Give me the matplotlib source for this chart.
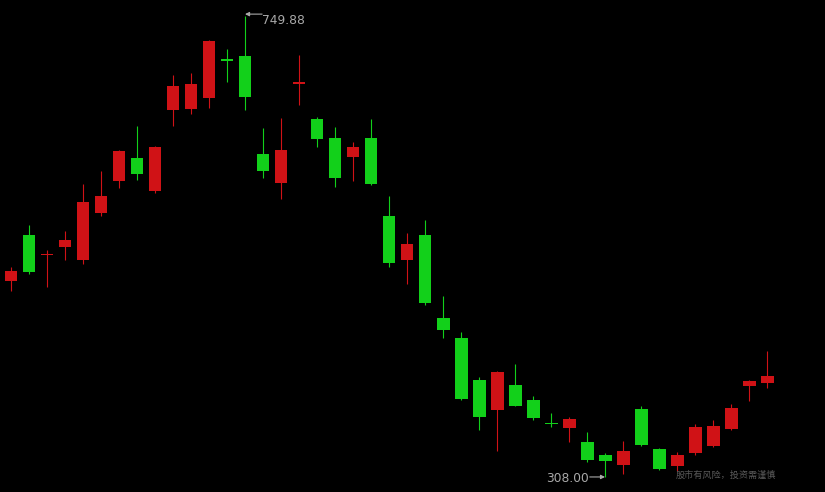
"""
Candlestick chart, dark theme, with max/min markers
"""
import numpy as np
import matplotlib
matplotlib.use('Agg')
import matplotlib.pyplot as plt

opens = [496, 540, 521, 529, 516, 561, 592, 614, 582, 660, 661, 671, 708, 712, 618,
         590, 685, 651, 633, 615, 633, 558, 516, 540, 461, 442, 401, 373, 397, 382,
         360, 355, 342, 329.5, 320, 374, 335, 319, 331, 338, 354, 396, 398]
closes = [506, 505, 522, 535, 572, 578, 621, 599, 624, 683, 685, 726, 707, 672, 601,
          622, 686, 632, 595, 624, 589, 513, 532, 475, 449, 383, 366, 409, 376, 365,
          359.5, 364, 325, 324, 333, 339, 316, 330, 356, 357, 375, 400, 405]
highs = [510, 550, 526, 544, 589, 601, 622, 645, 625, 693, 695, 727, 718, 749.88, 643,
         652, 713, 653, 644, 629, 651, 578, 542, 555, 482, 447, 404, 410, 417, 386,
         370, 366, 352, 331, 343, 376, 336, 332, 359, 363, 378, 401, 429]
lows = [487, 503, 490, 516, 512, 558, 585, 593, 580, 645, 656, 662, 687, 660, 595,
        575, 665, 624, 586, 592, 588, 510, 493, 473, 442, 382, 353, 333, 376, 363,
        356, 342, 323, 308.00, 311, 338, 315, 314, 330, 337, 353, 381, 394]

up_color = '#d01216'
down_color = '#12d01a'
label_color = '#a9a9a9'

o = np.array(opens)
c = np.array(closes)
h = np.array(highs)
l = np.array(lows)
x = np.arange(len(o))
colors = [up_color if cc >= oo else down_color for oo, cc in zip(o, c)]

fig = plt.figure(figsize=(8.25, 4.92), dpi=100)
fig.patch.set_facecolor('black')
ax = fig.add_axes([0, 0, 1, 1])
ax.set_facecolor('black')

# wicks then bodies (min body height so dojis show as a flat bar)
ax.vlines(x, l, h, colors=colors, linewidth=0.8, zorder=2)
body_bottom = np.minimum(o, c)
body_height = np.maximum(np.abs(c - o), 1.6)
body_bottom = np.where(np.abs(c - o) < 1.6, (o + c) / 2 - 0.8, body_bottom)
ax.bar(x, body_height, bottom=body_bottom, width=0.72, color=colors,
       linewidth=0, zorder=3)

ax.set_xlim(-0.611, 45.22)
ax.set_ylim(294.1, 765.2)
ax.axis('off')

# max / min markers
i_max = int(np.argmax(h))
i_min = int(np.argmin(l))
ax.annotate('', xy=(i_max, h[i_max] + 1.8), xytext=(i_max + 0.95, h[i_max] + 1.8),
            arrowprops=dict(arrowstyle='-|>', color=label_color, lw=0.8,
                            mutation_scale=6, shrinkA=0, shrinkB=0))
ax.text(i_max + 0.95, h[i_max] - 4.5, f'{h[i_max]:.2f}', color=label_color,
        fontsize=8.8, ha='left', va='center')
ax.annotate('', xy=(i_min, l[i_min] + 0.5), xytext=(i_min - 0.85, l[i_min] + 0.5),
            arrowprops=dict(arrowstyle='-|>', color=label_color, lw=0.8,
                            mutation_scale=6, shrinkA=0, shrinkB=0))
ax.text(i_min - 0.9, l[i_min] - 0.5, f'{l[i_min]:.2f}', color=label_color,
        fontsize=8.8, ha='right', va='center')

fig.text(0.819, 0.033, '股市有风险，投资需谨慎', color='#5a5a5a', fontsize=6.6,
         ha='left', va='center', family=['Noto Sans CJK SC', 'DejaVu Sans'])

fig.savefig('out.png', dpi=100, facecolor='black')
